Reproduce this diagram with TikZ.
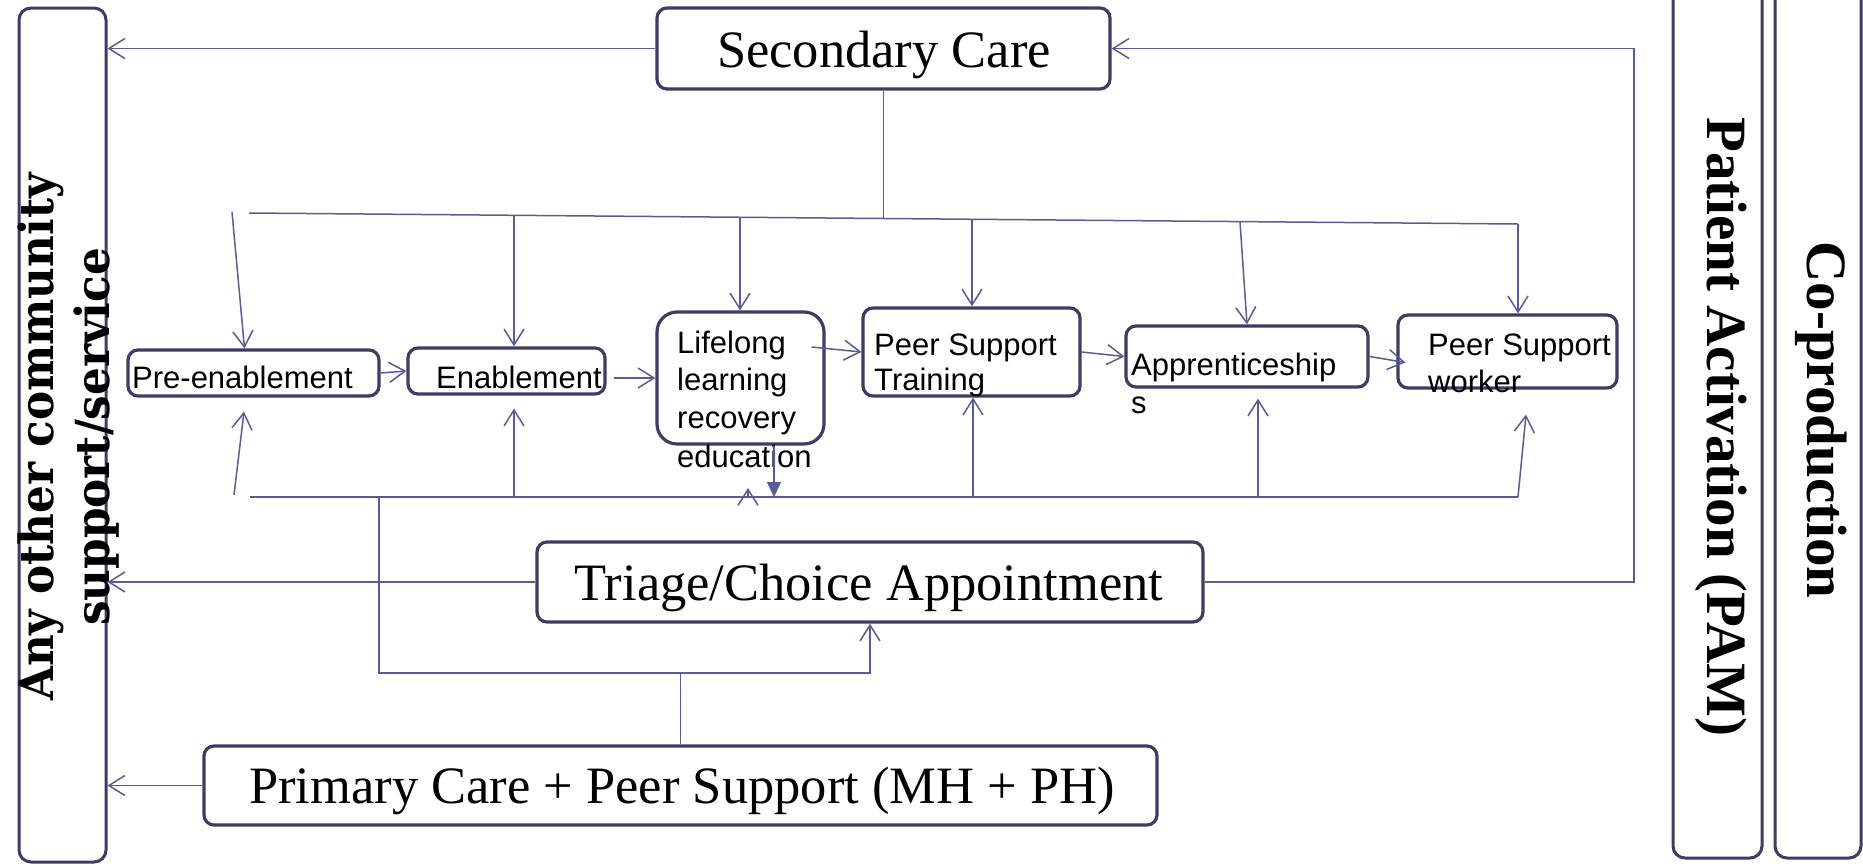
\documentclass[tikz,border=0pt]{standalone}
\usepackage{fontspec}
\setmainfont{Liberation Serif}
\newfontfamily\sansf{Liberation Sans}
\newfontfamily\wideserif[FakeStretch=0.93]{DejaVu Serif}
\usetikzlibrary{arrows.meta}
\definecolor{lnc}{RGB}{88,92,152}
\definecolor{bxc}{RGB}{60,60,102}
\tikzset{
  box/.style={draw=bxc, line width=3.2pt, rounded corners=10pt, inner sep=0pt, fill=white},
  tallbox/.style={draw=bxc, line width=3pt, rounded corners=12pt, inner sep=0pt},
  ln/.style={draw=lnc, line width=1.5pt},
  arr/.style={ln, -{Straight Barb[length=16pt,width=20pt,line width=1.5pt]}},
  farr/.style={ln, -{Triangle[length=15pt,width=14pt]}},
  small/.style={inner sep=0pt, anchor=base west, font=\sansf\fontsize{31}{38}\selectfont},
  big/.style={inner sep=0pt, anchor=base, font=\fontsize{52.5}{60}\selectfont},
  side/.style={inner sep=0pt, font=\bfseries\fontsize{57}{64}\selectfont}
}
\begin{document}
\begin{tikzpicture}[x=1pt,y=-1pt]
\useasboundingbox (0,0) rectangle (1863,865);
% tall boxes
\node[tallbox, minimum width=87pt, minimum height=854pt] (anyo) at (62.5,435) {};
\node[tallbox, minimum width=89pt, minimum height=888pt] (pam) at (1717.5,414) {};
\node[tallbox, minimum width=86pt, minimum height=888pt] (cop) at (1818,414) {};
% main boxes
\node[box, minimum width=453pt, minimum height=81pt] (sec) at (883.5,48.5) {};
\node[box, minimum width=666pt, minimum height=80pt] (tri) at (870,582) {};
\node[box, minimum width=953pt, minimum height=79pt] (prim) at (680.5,785.5) {};
\node[box, minimum width=251pt, minimum height=46pt] (pre) at (253.5,373) {};
\node[box, minimum width=197pt, minimum height=46pt] (en) at (506.5,371) {};
\node[box, rounded corners=20pt, minimum width=167pt, minimum height=132pt] (ll) at (740.5,378) {};
\node[box, minimum width=217pt, minimum height=88pt] (pst) at (971.5,352) {};
\node[box, minimum width=242pt, minimum height=61pt] (app) at (1247,356.5) {};
\node[box, minimum width=219pt, minimum height=73pt] (psw) at (1507.5,351.5) {};
% texts
\node[big] (secT) at (884,67) {Secondary Care};
\node[big] (triT) at (869,600) {Triage/Choice Appointment};
\node[big] (primT) at (682,803) {Primary Care + Peer Support (MH + PH)};
\node[small] (preT) at (132,388) {Pre-enablement};
\node[small] (enT) at (436,388) {Enablement};
\node[small] (ll1) at (677,353) {Lifelong};
\node[small] (ll2) at (677,390) {learning};
\node[small] (ll3) at (677,428) {recovery};
\node[small] (ll4) at (677,467) {education};
\node[small] (pst1) at (874,355) {Peer Support};
\node[small] (pst2) at (874,390) {Training};
\node[small] (app1) at (1131,375) {Apprenticeship};
\node[small] (app2) at (1131,413) {s};
\node[small] (psw1) at (1428,355) {Peer Support};
\node[small] (psw2) at (1428,392) {worker};
\node[side, rotate=-90] (pamT) at (1721,427) {Patient Activation (PAM)};
\node[side, rotate=-90] (copT) at (1821,420) {Co-production};
\node[inner sep=0pt, rotate=90, align=center, font=\wideserif\bfseries\fontsize{47}{56}\selectfont] (anyoT) at (68.5,437) {Any other community\\support/service};
% side arrows
\draw[arr] (sec.west) -- (sec.west -| anyo.east);
\draw[arr] (tri.west) -- (tri.west -| anyo.east);
\draw[arr] (prim.west) -- (prim.west -| anyo.east);
\coordinate (rx) at (1634,300);
\draw[arr] (tri.east) -- (tri.east -| rx) -- (sec.east -| rx) -- (sec.east);
% top bus
\coordinate (tbS) at (249,213);
\coordinate (tbE) at (1518,224);
\coordinate (tbM) at (884,218.5);
\draw[ln] (tbS) -- (tbE);
\draw[ln] (sec.south) -- (sec.south |- tbM);
\draw[arr] (tbE) -- (tbE |- psw.north);
\coordinate (tbPre) at (232,212);
\draw[arr] (tbPre) -- ([xshift=-9pt]pre.north);
\coordinate (tbEn) at (514,215.3);
\draw[arr] (tbEn) -- (tbEn |- en.north);
\coordinate (tbLL) at (740,217.3);
\draw[arr] (tbLL) -- (tbLL |- ll.north);
\coordinate (tbPS) at (972,219.3);
\draw[arr] (tbPS) -- (tbPS |- pst.north);
\coordinate (tbAp) at (1240,222);
\draw[arr] (tbAp) -- (app.north);
% chain arrows
\draw[arr] (pre.east) -- (en.west);
\coordinate (enR) at ([xshift=7pt]en.east);
\draw[arr] (enR |- ll.west) -- (ll.west);
\draw[arr] ([xshift=-14pt,yshift=31pt]ll.east) -- (pst.west);
\draw[arr] (pst.east) -- (app.west);
\draw[arr] (app.east) -- ([xshift=9pt,yshift=-11pt]psw.west);
% bottom bus
\coordinate (bbS) at (250,497);
\coordinate (bbE) at (1518,497);
\draw[ln] (bbS) -- (bbE);
\coordinate (bbPre) at (234,495);
\draw[arr] (bbPre) -- ([xshift=-9.5pt,yshift=-14pt]pre.south);
\coordinate (bbEn) at (514,497);
\coordinate (enUp) at ([yshift=-13pt]en.south);
\draw[arr] (bbEn) -- (bbEn |- enUp);
\coordinate (bbLL) at (748,497);
\coordinate (bbLLt) at (748,488);
\draw[arr] (bbLL) -- (bbLLt);
\coordinate (llD) at ([xshift=33.5pt]ll.south);
\draw[farr] (llD) -- (llD |- bbS);
\coordinate (bbPS) at (973,497);
\draw[arr] (bbPS) -- (bbPS |- pst.south);
\coordinate (bbAp) at (1258,497);
\coordinate (apUp) at ([yshift=-10pt]app.south);
\draw[arr] (bbAp) -- (bbAp |- apUp);
\draw[arr] (bbE) -- ([xshift=18.5pt,yshift=-25pt]psw.south);
% down to triage / primary
\coordinate (bbD) at (379,497);
\coordinate (jn) at (379,673);
\draw[arr] (bbD) -- (jn) -| (tri.south);
\draw[ln] (prim.north) -- (prim.north |- jn);
\end{tikzpicture}
\end{document}
